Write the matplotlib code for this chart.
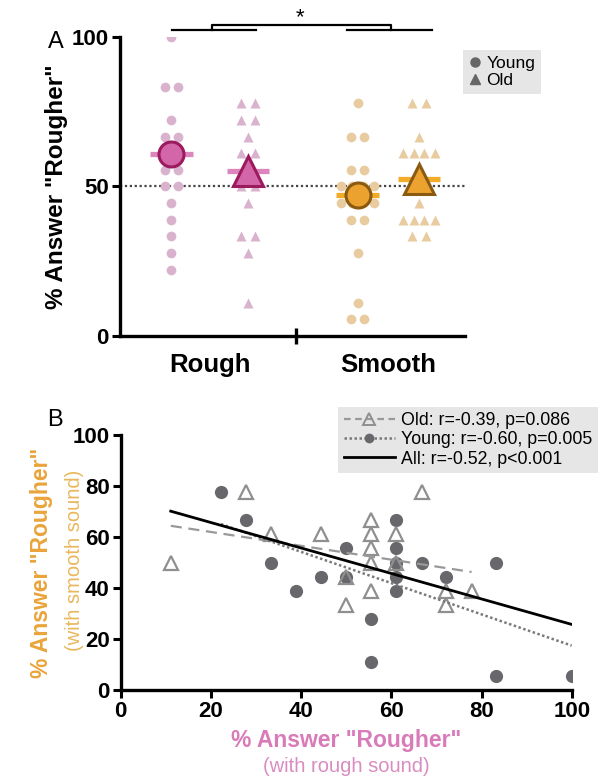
import numpy as np
import matplotlib
matplotlib.use("Agg")
import matplotlib.pyplot as plt
from matplotlib.lines import Line2D

plt.rcParams['font.family'] = ['Liberation Sans', 'DejaVu Sans']

# ---- panel A: % answer "Rougher" per participant ----
rough_young = [100, 83.3, 83.3, 72.2, 66.7, 66.7, 55.6, 55.6, 50, 50,
               44.4, 38.9, 33.3, 27.8, 22.2]
rough_old = [77.8, 77.8, 72.2, 72.2, 66.7, 61.1, 61.1, 55.6, 50, 50, 44.4,
             33.3, 33.3, 27.8, 11.1]
smooth_young = [77.8, 66.7, 66.7, 55.6, 55.6, 50, 50, 50, 50, 44.4, 44.4, 44.4, 44.4,
                38.9, 38.9, 27.8, 11.1, 5.6, 5.6]
smooth_old = [77.8, 77.8, 66.7, 61.1, 61.1, 61.1, 61.1, 50, 50, 44.4,
              38.9, 38.9, 38.9, 38.9, 33.3, 33.3]
group_means = [61.0, 55.3, 47.2, 52.5]
group_names = ["Rough", "Smooth"]

# ---- panel B: rough-sound vs smooth-sound answers ----
young_rough = [22.2, 27.8, 33.3, 38.9, 44.4, 50, 50, 55.6, 55.6, 61.1, 61.1, 61.1,
               61.1, 61.1, 66.7, 72.2, 83.3, 83.3, 100]
young_smooth = [77.8, 66.7, 50, 38.9, 44.4, 55.6, 44.4, 27.8, 11.1, 66.7, 55.6, 50,
                44.4, 38.9, 50, 44.4, 50, 5.6, 5.6]
old_rough = [11.1, 27.8, 33.3, 44.4, 50, 50, 55.6, 55.6, 55.6, 55.6, 55.6, 61.1,
             61.1, 66.7, 72.2, 72.2, 77.8]
old_smooth = [50, 77.8, 61.1, 61.1, 44.4, 33.3, 66.7, 61.1, 55.6, 50, 38.9, 61.1,
              50, 77.8, 38.9, 33.3, 38.9]
legend_b = ["Old: r=-0.39, p=0.086", "Young: r=-0.60, p=0.005", "All: r=-0.52, p<0.001"]


def swarm_x(center, vals):
    # spread identical values sideways, like a column scatter
    vals = np.asarray(vals)
    xs = np.full(len(vals), center, dtype=float)
    for v in np.unique(vals):
        idx = np.where(vals == v)[0]
        k = len(idx)
        step = 0.176 if k <= 2 else 0.143
        xs[idx] = center + (np.arange(k) - (k - 1) / 2) * step
    return xs


W, H = 598, 779
fig = plt.figure(figsize=(W / 100, H / 100), dpi=100)

# ================= panel A =================
axA = fig.add_axes([120 / W, 1 - 336 / H, 345 / W, 299 / H])
positions = [0.67, 1.67, 3.1, 3.9]
columns = [rough_young, rough_old, smooth_young, smooth_old]
markers = ['o', '^', 'o', '^']
light = ['#d9b3cd', '#d9b3cd', '#e8cca0', '#e8cca0']
face = ['#d366a8', '#d366a8', '#eba22e', '#eba22e']
edge = ['#9c1a5e', '#9c1a5e', '#8a5a12', '#8a5a12']
barc = ['#dd86bd', '#dd86bd', '#f2ac2a', '#f2ac2a']

axA.axhline(50, color='#444444', ls=(0, (1, 1.2)), lw=1.6, zorder=1)
for c, vals, m, lc, fc, ec, bc, mean in zip(positions, columns, markers, light,
                                             face, edge, barc, group_means):
    ms = 7 if m == 'o' else 7.6
    axA.plot(swarm_x(c, vals), vals, ls='none', marker=m, ms=ms,
             color=lc, mec='none', zorder=2)
    axA.hlines(mean, c - 0.28, c + 0.28, color=bc, lw=3.8, zorder=3)
    axA.plot([c], [mean], marker=m, ms=18 if m == 'o' else 22,
             mfc=fc, mec=ec, mew=2.2, ls='none', zorder=4)

axA.set_xlim(0, 4.5)
axA.set_ylim(0, 100)
axA.set_yticks([0, 50, 100])
axA.set_xticks([1.17, 3.5])
axA.set_xticklabels(group_names)
axA.set_xticks([2.3], minor=True)
axA.tick_params(axis='x', which='major', length=0, pad=12, labelsize=18.5)
axA.tick_params(axis='x', which='minor', length=12, width=2.4, direction='inout')
axA.tick_params(axis='y', length=6, width=2.2, pad=2, labelsize=16)
for lab in axA.get_xticklabels() + axA.get_yticklabels():
    lab.set_fontweight('bold')
for s in ['top', 'right']:
    axA.spines[s].set_visible(False)
for s in ['left', 'bottom']:
    axA.spines[s].set_linewidth(2.4)
axA.set_ylabel('% Answer "Rougher"', fontsize=17.5, fontweight='bold', labelpad=3)

# significance bracket
axA.plot([0.674, 1.773], [102.3, 102.3], color='k', lw=1.6, clip_on=False)
axA.plot([2.956, 4.064], [102.3, 102.3], color='k', lw=1.6, clip_on=False)
axA.plot([1.196, 1.196, 3.54, 3.54], [102.3, 104, 104, 102.3], color='k',
         lw=1.6, clip_on=False)
axA.text(2.35, 106.5, '*', ha='center', va='center', fontsize=16)

hA = [Line2D([], [], ls='none', marker='o', color='#666666', ms=6.5),
      Line2D([], [], ls='none', marker='^', color='#666666', ms=6.5)]
axA.legend(hA, ['Young', 'Old'], loc='upper left',
           bbox_to_anchor=(463 / W, 1 - 50 / H), bbox_transform=fig.transFigure,
           borderaxespad=0, fontsize=12.5, frameon=True, fancybox=False,
           facecolor='#e6e6e6', edgecolor='none', framealpha=1,
           handlelength=0.7, handletextpad=0.3, borderpad=0.35,
           labelspacing=0.1)
fig.text(56 / W, 1 - 42 / H, 'A', fontsize=17, ha='center', va='center')

# ================= panel B =================
axB = fig.add_axes([120.7 / W, 1 - 690 / H, 451 / W, 255 / H])
axB.plot(young_rough, young_smooth, ls='none', marker='o', ms=9.5,
         color='#67676c', mec='none', zorder=2)
axB.plot(old_rough, old_smooth, ls='none', marker='^', ms=10.5,
         mfc='none', mec='#8f8f8f', mew=1.6, zorder=3)

xa = np.array(young_rough + old_rough)
ya = np.array(young_smooth + old_smooth)
fits = [(old_rough, old_smooth, dict(color='#999999', ls=(0, (5, 3)), lw=1.6)),
        (young_rough, young_smooth, dict(color='#7a7a7a', ls=(0, (1, 1)), lw=1.8)),
        (xa, ya, dict(color='black', ls='-', lw=2.0))]
for xs, ys, st in fits:
    k, b = np.polyfit(xs, ys, 1)
    xr = np.array([np.min(xs), np.max(xs)])
    axB.plot(xr, k * xr + b, zorder=4, **st)

axB.set_xlim(0, 100)
axB.set_ylim(0, 100)
axB.set_xticks(np.arange(0, 101, 20))
axB.set_yticks(np.arange(0, 101, 20))
axB.tick_params(length=6, width=2.2, labelsize=16, pad=2)
for lab in axB.get_xticklabels() + axB.get_yticklabels():
    lab.set_fontweight('bold')
for s in ['top', 'right']:
    axB.spines[s].set_visible(False)
for s in ['left', 'bottom']:
    axB.spines[s].set_linewidth(2.4)

hB = [Line2D([], [], color='#999999', ls=(0, (3, 2)), lw=1.6, marker='^', ms=8,
             mfc='none', mec='#8f8f8f', mew=1.4),
      Line2D([], [], color='#7a7a7a', ls=(0, (1, 1)), lw=1.8, marker='o', ms=6,
             mfc='#67676c', mec='#67676c'),
      Line2D([], [], color='black', lw=2.0)]
axB.legend(hB, legend_b, loc='upper right', bbox_to_anchor=(1.0, 1 - 407 / H),
           bbox_transform=fig.transFigure, borderaxespad=0, fontsize=12.8,
           frameon=True, fancybox=False, facecolor='#e6e6e6', edgecolor='none',
           framealpha=1, handlelength=2.9, handletextpad=0.35, borderpad=0.3,
           labelspacing=0.12)
fig.text(55 / W, 1 - 420 / H, 'B', fontsize=17, ha='center', va='center')

fig.text(42 / W, 1 - 563 / H, '% Answer "Rougher"', rotation=90, fontsize=16.5,
         fontweight='bold', color='#e9a43a', ha='center', va='center')
fig.text(75 / W, 1 - 560 / H, '(with smooth sound)', rotation=90, fontsize=14.5,
         color='#e9b75c', ha='center', va='center')
fig.text(346 / W, 1 - 741 / H, '% Answer "Rougher"', fontsize=16.5,
         fontweight='bold', color='#d97bb8', ha='center', va='center')
fig.text(346 / W, 1 - 767 / H, '(with rough sound)', fontsize=14.5,
         color='#d98cc1', ha='center', va='center')

fig.savefig('out.png', dpi=100)
